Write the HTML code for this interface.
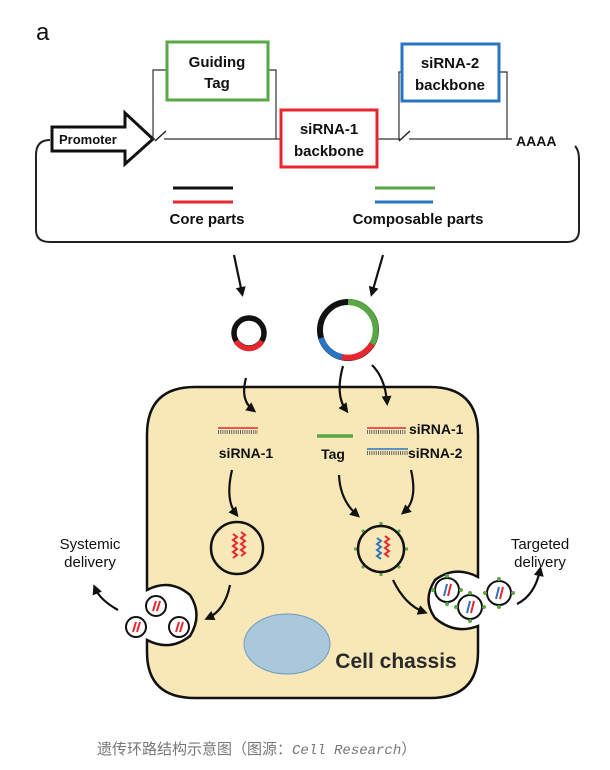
<!DOCTYPE html>
<html><head><meta charset="utf-8"><style>
html,body{margin:0;padding:0;background:#fff;}
svg{display:block;}
text{font-family:"Liberation Sans",Arial,sans-serif;font-weight:bold;fill:#111;}
</style></head><body>
<svg width="610" height="770" viewBox="0 0 610 770" xmlns="http://www.w3.org/2000/svg">
<defs>
<marker id="ah" markerWidth="10" markerHeight="10" refX="6" refY="5" orient="auto" markerUnits="userSpaceOnUse">
<path d="M0,0 L10,5 L0,10 Z" fill="#111"/></marker>
</defs>
<text x="36" y="40" font-size="24" style="font-weight:normal">a</text>
<path d="M50,140 Q36,140 36,155 L36,230 Q36,242 50,242 L567,242 Q579,242 579,230 L579,160 Q579,150 575,146" fill="none" stroke="#222" stroke-width="2"/>
<path d="M52,127 L125,127 L125,113 L153,139 L125,164 L125,151 L52,151 Z" fill="#fff" stroke="#111" stroke-width="3"/>
<text x="59" y="144" font-size="13">Promoter</text>
<line x1="155" y1="141" x2="166" y2="131" stroke="#222" stroke-width="1.5"/>
<line x1="399" y1="141" x2="410" y2="131" stroke="#222" stroke-width="1.5"/>
<path d="M153,140 L153,70 L166,70" fill="none" stroke="#333" stroke-width="1.2"/>
<path d="M269,70 L276,70 L276,139" fill="none" stroke="#333" stroke-width="1.2"/>
<line x1="164" y1="139" x2="281" y2="139" stroke="#333" stroke-width="1.2"/>
<line x1="378" y1="139" x2="400" y2="139" stroke="#333" stroke-width="1.2"/>
<path d="M399,140 L399,72 L402,72" fill="none" stroke="#333" stroke-width="1.2"/>
<path d="M500,72 L507,72 L507,139" fill="none" stroke="#333" stroke-width="1.2"/>
<line x1="409" y1="139" x2="512" y2="139" stroke="#333" stroke-width="1.2"/>
<rect x="167" y="42" width="101" height="58" fill="#fff" stroke="#5aa845" stroke-width="3"/>
<text x="217" y="67" font-size="15" text-anchor="middle">Guiding</text>
<text x="217" y="88" font-size="15" text-anchor="middle">Tag</text>
<rect x="281" y="110" width="96" height="57" fill="#fff" stroke="#e8262d" stroke-width="3"/>
<text x="329" y="134" font-size="15" text-anchor="middle">siRNA-1</text>
<text x="329" y="156" font-size="15" text-anchor="middle">backbone</text>
<rect x="402" y="44" width="97" height="57" fill="#fff" stroke="#2b74c2" stroke-width="3"/>
<text x="450" y="68" font-size="15" text-anchor="middle">siRNA-2</text>
<text x="450" y="90" font-size="15" text-anchor="middle">backbone</text>
<text x="516" y="146" font-size="14">AAAA</text>
<line x1="173" y1="188" x2="233" y2="188" stroke="#111" stroke-width="3"/>
<line x1="173" y1="202" x2="233" y2="202" stroke="#e8262d" stroke-width="3"/>
<text x="207" y="224" font-size="15" text-anchor="middle">Core parts</text>
<line x1="375" y1="188" x2="435" y2="188" stroke="#5aa845" stroke-width="3"/>
<line x1="375" y1="202" x2="433" y2="202" stroke="#2b74c2" stroke-width="3"/>
<text x="418" y="224" font-size="15" text-anchor="middle">Composable parts</text>
<line x1="234" y1="255" x2="242" y2="293" stroke="#111" stroke-width="2.2" marker-end="url(#ah)"/>
<line x1="383" y1="255" x2="372" y2="293" stroke="#111" stroke-width="2.2" marker-end="url(#ah)"/>
<circle cx="249" cy="333" r="15" fill="none" stroke="#111" stroke-width="5.5"/>
<path d="M236,341 A15,15 0 0 0 262,341" fill="none" stroke="#e8262d" stroke-width="5.5"/>
<circle cx="348" cy="330" r="28" fill="none" stroke="#111" stroke-width="6"/>
<path d="M348,302 A28,28 0 0 1 372,344" fill="none" stroke="#5aa845" stroke-width="6"/>
<path d="M372,344 A28,28 0 0 1 342,357" fill="none" stroke="#e8262d" stroke-width="6"/>
<path d="M342,357 A28,28 0 0 1 321,338" fill="none" stroke="#2b74c2" stroke-width="6"/>
<path d="M195,387 L430,387 Q478,387 478,435 L478,577 Q455,565 435,580 Q422,600 435,618 Q455,635 478,626 L478,652 Q478,698 430,698 L195,698 Q147,698 147,652 L147,640 Q170,652 190,636 Q203,615 190,595 Q170,578 147,590 L147,435 Q147,387 195,387 Z" fill="#f8e8b8" stroke="#111" stroke-width="2.5"/>
<ellipse cx="287" cy="644" rx="43" ry="30" fill="#a9c8dc" stroke="#6d9cbd" stroke-width="1"/>
<text x="396" y="668" font-size="21" text-anchor="middle" style="fill:#2a2a2a">Cell chassis</text>
<path d="M246,378 Q240,400 253,410" fill="none" stroke="#111" stroke-width="2.2" marker-end="url(#ah)"/>
<path d="M343,366 Q335,395 346,410" fill="none" stroke="#111" stroke-width="2.2" marker-end="url(#ah)"/>
<path d="M372,365 Q385,378 387,402" fill="none" stroke="#111" stroke-width="2.2" marker-end="url(#ah)"/>
<line x1="218" y1="428" x2="258" y2="428" stroke="#e8262d" stroke-width="1.5"/>
<line x1="218" y1="432" x2="258" y2="432" stroke="#666" stroke-width="4" stroke-dasharray="1,1.2"/>
<text x="246" y="458" font-size="14" text-anchor="middle">siRNA-1</text>
<line x1="317" y1="436" x2="353" y2="436" stroke="#5aa845" stroke-width="3.5"/>
<text x="333" y="459" font-size="14" text-anchor="middle">Tag</text>
<line x1="367" y1="428" x2="406" y2="428" stroke="#e8262d" stroke-width="1.5"/>
<line x1="367" y1="432" x2="406" y2="432" stroke="#666" stroke-width="4" stroke-dasharray="1,1.2"/>
<text x="409" y="434" font-size="14">siRNA-1</text>
<line x1="367" y1="449" x2="408" y2="449" stroke="#2b74c2" stroke-width="1.5"/>
<line x1="367" y1="453" x2="408" y2="453" stroke="#666" stroke-width="4" stroke-dasharray="1,1.2"/>
<text x="408" y="458" font-size="14">siRNA-2</text>
<path d="M232,470 Q225,500 236,514" fill="none" stroke="#111" stroke-width="2.2" marker-end="url(#ah)"/>
<path d="M339,475 Q340,500 357,515" fill="none" stroke="#111" stroke-width="2.2" marker-end="url(#ah)"/>
<path d="M411,470 Q418,500 404,512" fill="none" stroke="#111" stroke-width="2.2" marker-end="url(#ah)"/>
<circle cx="237" cy="548" r="26" fill="none" stroke="#111" stroke-width="2.5"/>
<path d="M233,534 l4,3 -4,3 4,3 -4,3 4,3 -4,3 4,3 -4,3" fill="none" stroke="#e8262d" stroke-width="2"/>
<path d="M241,532 l4,3 -4,3 4,3 -4,3 4,3 -4,3 4,3 -4,3" fill="none" stroke="#e8262d" stroke-width="2"/>
<g stroke="#5aa845" stroke-width="3">
<line x1="381" y1="522" x2="381" y2="527"/><line x1="381" y1="571" x2="381" y2="576"/>
<line x1="354" y1="549" x2="359" y2="549"/><line x1="403" y1="549" x2="408" y2="549"/>
<line x1="362" y1="530" x2="365" y2="533"/><line x1="397" y1="565" x2="400" y2="568"/>
<line x1="400" y1="530" x2="397" y2="533"/><line x1="362" y1="568" x2="365" y2="565"/>
</g>
<circle cx="381" cy="549" r="23" fill="none" stroke="#111" stroke-width="2.5"/>
<path d="M377,538 l4,3 -4,3 4,3 -4,3 4,3 -4,3 4,3" fill="none" stroke="#2b74c2" stroke-width="2"/>
<path d="M385,536 l4,3 -4,3 4,3 -4,3 4,3 -4,3 4,3" fill="none" stroke="#e8262d" stroke-width="2"/>
<path d="M230,585 Q225,610 208,618" fill="none" stroke="#111" stroke-width="2.2" marker-end="url(#ah)"/>
<path d="M393,580 Q405,605 424,612" fill="none" stroke="#111" stroke-width="2.2" marker-end="url(#ah)"/>
<g fill="#fff" stroke="#111" stroke-width="2">
<circle cx="156" cy="606" r="10"/><circle cx="136" cy="627" r="10"/><circle cx="179" cy="627" r="10"/>
</g>
<g stroke="#e8262d" stroke-width="2">
<line x1="153" y1="611" x2="156" y2="601"/><line x1="157" y1="611" x2="160" y2="601"/>
<line x1="133" y1="632" x2="136" y2="622"/><line x1="137" y1="632" x2="140" y2="622"/>
<line x1="176" y1="632" x2="179" y2="622"/><line x1="180" y1="632" x2="183" y2="622"/>
</g>
<path d="M118,610 Q100,600 95,588" fill="none" stroke="#111" stroke-width="2.2" marker-end="url(#ah)"/>
<text x="90" y="549" font-size="15" text-anchor="middle" style="font-weight:normal;-webkit-text-stroke:0.6px #111">Systemic</text>
<text x="90" y="567" font-size="15" text-anchor="middle" style="font-weight:normal;-webkit-text-stroke:0.6px #111">delivery</text>
<g fill="#fff" stroke="#111" stroke-width="2">
<circle cx="447" cy="590" r="12"/><circle cx="470" cy="607" r="12"/><circle cx="499" cy="593" r="12"/>
</g>
<g fill="#5aa845">
<circle cx="433" cy="590" r="2"/><circle cx="447" cy="576" r="2"/><circle cx="461" cy="590" r="2"/><circle cx="447" cy="604" r="2"/>
<circle cx="456" cy="607" r="2"/><circle cx="470" cy="621" r="2"/><circle cx="484" cy="607" r="2"/><circle cx="470" cy="593" r="2"/>
<circle cx="485" cy="593" r="2"/><circle cx="499" cy="579" r="2"/><circle cx="513" cy="593" r="2"/><circle cx="499" cy="607" r="2"/>
</g>
<g stroke-width="2">
<line x1="444" y1="596" x2="447" y2="584" stroke="#2b74c2"/><line x1="448" y1="596" x2="451" y2="584" stroke="#e8262d"/>
<line x1="467" y1="613" x2="470" y2="601" stroke="#2b74c2"/><line x1="471" y1="613" x2="474" y2="601" stroke="#e8262d"/>
<line x1="496" y1="599" x2="499" y2="587" stroke="#2b74c2"/><line x1="500" y1="599" x2="503" y2="587" stroke="#e8262d"/>
</g>
<path d="M517,604 Q535,595 540,570" fill="none" stroke="#111" stroke-width="2.2" marker-end="url(#ah)"/>
<text x="540" y="549" font-size="15" text-anchor="middle" style="font-weight:normal;-webkit-text-stroke:0.6px #111">Targeted</text>
<text x="540" y="567" font-size="15" text-anchor="middle" style="font-weight:normal;-webkit-text-stroke:0.6px #111">delivery</text>
<text x="97" y="754" font-size="15" style="font-weight:normal;fill:#777;font-family:'Liberation Sans','Noto Sans CJK SC',sans-serif">遗传环路结构示意图（图源：<tspan style="font-family:'Liberation Mono',monospace;font-style:italic" font-size="14">Cell Research</tspan>）</text>
</svg>
</body></html>
